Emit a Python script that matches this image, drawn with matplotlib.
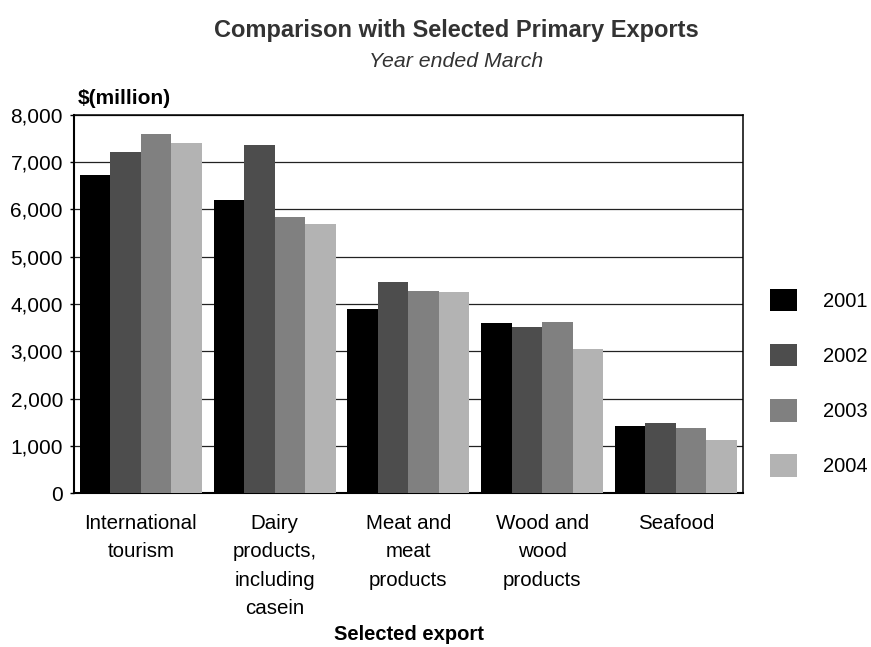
import matplotlib.pyplot as plt
import numpy as np

# export earnings, $ million, year ended March
categories = ['International\ntourism', 'Dairy\nproducts,\nincluding\ncasein',
              'Meat and\nmeat\nproducts', 'Wood and\nwood\nproducts', 'Seafood']
years = ['2001', '2002', '2003', '2004']
y2001 = [6725, 6200, 3900, 3605, 1430]
y2002 = [7220, 7370, 4470, 3520, 1495]
y2003 = [7600, 5845, 4280, 3625, 1385]
y2004 = [7410, 5700, 4260, 3055, 1135]
series = [y2001, y2002, y2003, y2004]
colors = ['#000000', '#4d4d4d', '#808080', '#b3b3b3']

plt.rcParams['font.family'] = ['Liberation Sans', 'DejaVu Sans']

fig = plt.figure(figsize=(8.71, 6.47), dpi=100)
ax = fig.add_axes([0.085, 0.2376, 0.7677, 0.5851])

x = np.arange(len(categories))
barwidth = 0.228
bars = []
for i, (vals, c) in enumerate(zip(series, colors)):
    b = ax.bar(x + (i - 1.5) * barwidth, vals, barwidth, color=c,
               label=years[i], zorder=3)
    bars.append(b)

ax.set_xlim(-0.5, 4.5)
ax.set_ylim(0, 8000)
ax.set_yticks(np.arange(0, 8001, 1000))
ax.set_yticklabels(['{:,}'.format(v) for v in range(0, 8001, 1000)])
ax.yaxis.grid(True, color='#222222', linewidth=0.9, zorder=0)
ax.set_axisbelow(True)

ax.set_xticks(x)
ax.set_xticklabels(categories, linespacing=1.62, va='top')
ax.tick_params(axis='x', length=0, pad=15, labelsize=14.8)
ax.tick_params(axis='y', length=3, width=1, pad=5, labelsize=15)

ax.spines['left'].set_linewidth(1.5)
ax.spines['bottom'].set_linewidth(1.5)
ax.spines['right'].set_linewidth(1.1)
ax.spines['top'].set_linewidth(1.1)

fig.text(0.5235, 0.953, 'Comparison with Selected Primary Exports',
         fontsize=17, fontweight='bold', color='#333333', ha='center', va='center')
fig.text(0.5235, 0.905, 'Year ended March',
         fontsize=15.3, style='italic', color='#333333', ha='center', va='center')
fig.text(0.0895, 0.848, '$(million)', fontsize=15, fontweight='bold',
         ha='left', va='center')
fig.text(0.47, 0.004, 'Selected export', fontsize=14.5, fontweight='bold',
         ha='center', va='bottom')

fig.legend(handles=bars, labels=years, loc='upper left',
           bbox_to_anchor=(0.884, 0.554), frameon=False, fontsize=14.5,
           handlelength=1.35, handleheight=1.35, labelspacing=1.62,
           handletextpad=1.3, borderpad=0, borderaxespad=0)

fig.savefig('out.png', dpi=100)
